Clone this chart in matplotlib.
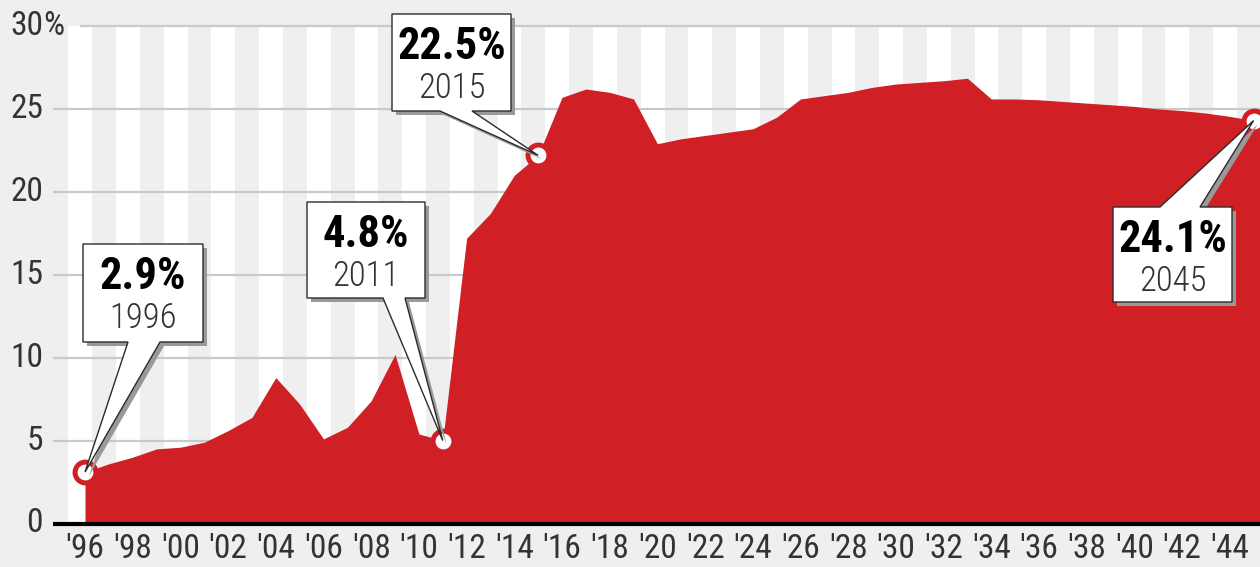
import matplotlib
matplotlib.use("Agg")
import matplotlib.pyplot as plt
from matplotlib.patches import Polygon
from matplotlib.transforms import blended_transform_factory
from matplotlib import font_manager as fm

# ---------------- data ----------------
years = list(range(1996, 2046))
values = [3.1, 3.6, 4.0, 4.5, 4.6, 4.9, 5.6, 6.4, 8.8, 7.2,
          5.1, 5.8, 7.4, 10.2, 5.4, 5.0, 17.2, 18.7, 21.0, 22.2,
          25.7, 26.2, 26.0, 25.6, 22.9, 23.2, 23.4, 23.6, 23.8, 24.5,
          25.6, 25.8, 26.0, 26.3, 26.5, 26.6, 26.7, 26.85, 25.6, 25.6,
          25.55, 25.45, 25.35, 25.25, 25.15, 25.0, 24.9, 24.75, 24.55, 24.3]
callout_years = [1996, 2011, 2015, 2045]
callout_values = ["2.9%", "4.8%", "22.5%", "24.1%"]
xtick_years = list(range(1996, 2045, 2))
xtick_labels = ["'%02d" % (y % 100) for y in xtick_years]
ytick_values = [0, 5, 10, 15, 20, 25, 30]
ytick_labels = ["0", "5", "10", "15", "20", "25", "30"]

# ---------------- fonts ----------------
available = {f.name for f in fm.fontManager.ttflist}


def pick(cands):
    for c in cands:
        if c in available:
            return [c, "DejaVu Sans"]
    return ["DejaVu Sans"]


LIGHT = pick(["Roboto Condensed", "Fira Sans Condensed", "Barlow Condensed",
              "Pragati Narrow", "Liberation Sans Narrow"])
BOLD = pick(["Roboto Condensed", "Fira Sans Extra Condensed", "Fira Sans Condensed",
             "Barlow Condensed", "Liberation Sans Narrow"])

# ---------------- style ----------------
W, H, DPI = 1260, 567, 100
BG = "#efefef"
RED = "#d11f26"
GRID = "#c9c9c9"
TXT = "#333333"
TICK_FS = 24
plt.rcParams["font.family"] = LIGHT

fig = plt.figure(figsize=(W / DPI, H / DPI), dpi=DPI, facecolor=BG)

# axes placement in pixels
ax_l, ax_r, ax_top, ax_bot = 53, 1260, 26, 523.5
ax = fig.add_axes([ax_l / W, (H - ax_bot) / H, (ax_r - ax_l) / W, (ax_bot - ax_top) / H])
ax.set_facecolor(BG)
px_per_year = 23.85
x0_px = 85  # pixel position of first year
xmin = years[0] - (x0_px - ax_l) / px_per_year
xmax = years[0] + (ax_r - x0_px) / px_per_year
ax.set_xlim(xmin, xmax)
ax.set_ylim(0, 30)
for s in ax.spines.values():
    s.set_visible(False)

# vertical stripes (one per year)
stripe_start = years[0] - 0.7
k = 0
while stripe_start + k < xmax:
    if k % 2 == 0:
        ax.axvspan(stripe_start + k, min(stripe_start + k + 1, xmax), 0, 1,
                   color="white", lw=0, zorder=0)
    k += 1

# horizontal gridlines
for v in ytick_values[1:]:
    start = xmin if v != 30 else years[0] - 0.2
    ax.plot([start, xmax], [v, v], color=GRID, lw=1.6, zorder=1,
            solid_capstyle="butt", clip_on=False)

# red area
fx = years + [xmax]
fy = values + [values[-1]]
ax.fill_between(fx, fy, 0, color=RED, lw=0, zorder=2)

# baseline
ax.plot([xmin, xmax], [0, 0], color="black", lw=3, zorder=3,
        solid_capstyle="butt", clip_on=False)

# y tick labels
ytrans = blended_transform_factory(fig.transFigure, ax.transData)
for v, lab in zip(ytick_values, ytick_labels):
    ax.text(43 / W, v, lab, transform=ytrans, ha="right", va="center",
            fontsize=TICK_FS, color=TXT, clip_on=False, family=LIGHT, fontweight="normal")
    if v == 30:
        ax.text(43 / W, v, "%", transform=ytrans, ha="left", va="center",
                fontsize=TICK_FS, color=TXT, clip_on=False, family=LIGHT, fontweight="normal")

# x tick labels
ax.set_xticks(xtick_years)
ax.set_xticklabels(xtick_labels, fontsize=TICK_FS, color=TXT, family=LIGHT, fontweight="normal")
ax.tick_params(axis="x", length=0, pad=7)
ax.set_yticks([])


# ---------------- callouts ----------------
def fpx(x, y):
    """pixel (top-left origin) -> figure fraction"""
    return (x / W, 1 - y / H)


def data_to_px(xd, yd):
    dx, dy = ax.transData.transform((xd, yd))
    return dx * DPI / fig.dpi, H - dy * DPI / fig.dpi


# box: (left, top, right, bottom), wedge base (x1, x2), side
boxes = [
    ((83, 244, 203, 342), (128, 160), "bottom"),
    ((307, 202, 425, 298), (383, 405), "bottom"),
    ((392, 14, 511, 111), (440, 472), "bottom"),
    ((1113, 207, 1232, 302), (1160, 1200), "top"),
]

for (yr, lab), (box, base, side) in zip(zip(callout_years, callout_values), boxes):
    val = values[years.index(yr)]
    tx, ty = data_to_px(yr, val)
    l, t, r, b = box
    if side == "bottom":
        pts = [(l, t), (r, t), (r, b), (base[1], b), (tx, ty), (base[0], b), (l, b)]
    else:
        pts = [(l, t), (base[0], t), (tx, ty), (base[1], t), (r, t), (r, b), (l, b)]
    shadow = [fpx(x + 4, y + 4) for x, y in pts]
    fig.patches.append(Polygon(shadow, closed=True, transform=fig.transFigure,
                               facecolor="#999999", edgecolor="none", zorder=5))
    fig.patches.append(Polygon([fpx(x, y) for x, y in pts], closed=True,
                               transform=fig.transFigure, facecolor="white",
                               edgecolor="#2b2b2b", lw=1.0, zorder=6))
    cx = (l + r) / 2
    fig.text(*fpx(cx, t + 33), lab, ha="center", va="center", fontsize=32,
             fontweight="bold", color="black", zorder=7, family=BOLD)
    fig.text(*fpx(cx, t + 74), str(yr), ha="center", va="center", fontsize=25,
             color=TXT, zorder=7, family=LIGHT, fontweight=300)

# markers
for yr in callout_years:
    val = values[years.index(yr)]
    ax.plot([yr], [val], marker="o", ms=15, mfc="white", mec=RED, mew=3.6,
            zorder=10, clip_on=False)

fig.savefig("out.png", dpi=DPI, facecolor=BG)
